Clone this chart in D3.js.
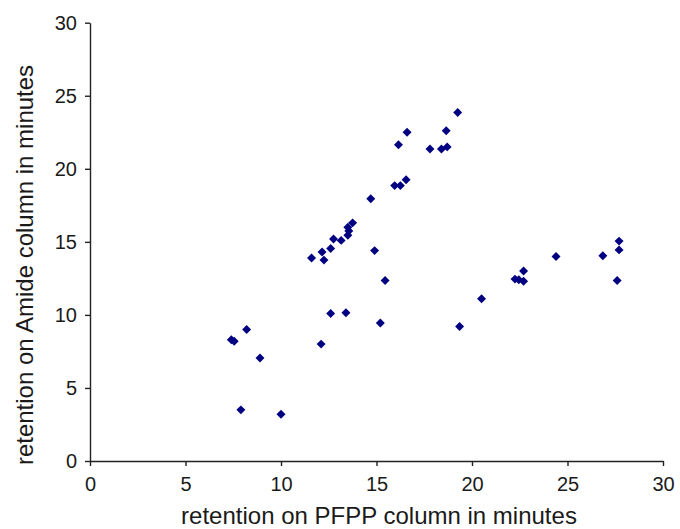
<!DOCTYPE html>
<html>
<head>
<meta charset="utf-8">
<script src="https://cdn.jsdelivr.net/npm/d3@7"></script>
<style>
  body { margin: 0; background: #fff; }
  svg { display: block; }
  text { font-family: "Liberation Sans", Arial, sans-serif; fill: #1a1a1a; }
</style>
</head>
<body>
<svg id="chart" width="680" height="529"></svg>
<script>
// Data
const pfppRetention = [7.4, 7.55, 8.2, 8.9, 7.9, 10.0, 12.1, 12.6, 13.4, 15.2, 19.35, 20.5, 15.45, 14.9, 11.6, 12.15, 12.25, 12.6, 12.75, 13.15, 13.5, 13.55, 13.5, 13.75, 14.7, 15.95, 16.25, 16.55, 16.15, 16.6, 17.8, 18.4, 18.7, 18.65, 19.25, 22.25, 22.45, 22.7, 22.7, 24.4, 26.85, 27.6, 27.7, 27.7];
const amideRetention = [8.3, 8.2, 9.0, 7.05, 3.5, 3.2, 8.0, 10.1, 10.15, 9.45, 9.2, 11.1, 12.35, 14.4, 13.9, 14.3, 13.75, 14.55, 15.2, 15.1, 15.45, 15.75, 16.0, 16.3, 17.95, 18.85, 18.85, 19.25, 21.65, 22.5, 21.35, 21.35, 21.5, 22.6, 23.85, 12.45, 12.4, 13.0, 12.3, 14.0, 14.05, 12.35, 15.05, 14.45];
const xTicks = [0, 5, 10, 15, 20, 25, 30];
const yTicks = [0, 5, 10, 15, 20, 25, 30];
const xTitle = "retention on PFPP column in minutes";
const yTitle = "retention on Amide column in minutes";

const svg = d3.select("#chart");
const x = d3.scaleLinear().domain([0, 30]).range([90, 663]);
const y = d3.scaleLinear().domain([0, 30]).range([461, 22.7]);

const axisColor = "#222";

const gx = svg.append("g").attr("transform", `translate(0,${y(0)})`)
  .call(d3.axisBottom(x).tickValues(xTicks).tickSize(5).tickPadding(11).tickSizeOuter(0));
const gy = svg.append("g").attr("transform", `translate(${x(0)},0)`)
  .call(d3.axisLeft(y).tickValues(yTicks).tickSize(5).tickPadding(8).tickSizeOuter(0));

[gx, gy].forEach(g => {
  g.select(".domain").attr("stroke", axisColor).attr("stroke-width", 1.4);
  g.selectAll(".tick line").attr("stroke", axisColor).attr("stroke-width", 1.4);
  g.selectAll(".tick text").style("font-size", "20px").style("font-family", "'Liberation Sans', Arial, sans-serif").attr("fill", "#1a1a1a");
});

const data = pfppRetention.map((v, i) => ({ x: v, y: amideRetention[i] }));
const diamond = d3.symbol().type(d3.symbolSquare).size(40);
svg.append("g").selectAll("path").data(data).join("path")
  .attr("d", diamond)
  .attr("transform", d => `translate(${x(d.x)},${y(d.y)}) rotate(45)`)
  .attr("fill", "#000080");

svg.append("text")
  .attr("x", 379).attr("y", 524)
  .attr("text-anchor", "middle")
  .style("font-size", "24px")
  .text(xTitle);

svg.append("text")
  .attr("transform", "translate(33,265) rotate(-90)")
  .attr("text-anchor", "middle")
  .style("font-size", "24px")
  .text(yTitle);
</script>
</body>
</html>
